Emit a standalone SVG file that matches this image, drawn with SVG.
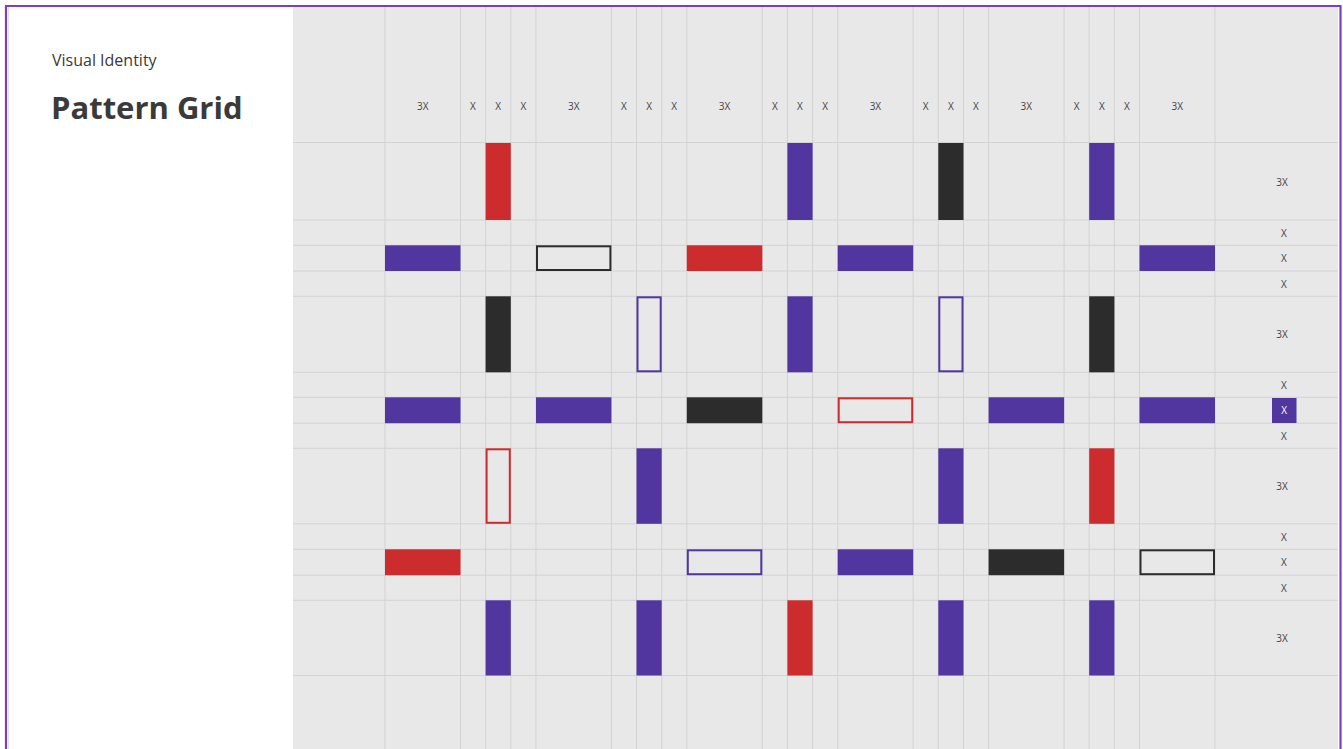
<svg xmlns="http://www.w3.org/2000/svg" width="1343" height="749" viewBox="0 0 1343 749">
<style>
.t{font-family:"Open Sans","Liberation Sans",sans-serif;fill:#3a3a3a}
.lbl{font-family:"Open Sans","Liberation Sans",sans-serif;font-size:10px;fill:#444;text-anchor:middle;dominant-baseline:central}
.gl{stroke:#d3d3d3;stroke-width:1;fill:none}
.pf{fill:#51369f}
.rf{fill:#cc2c2d}
.kf{fill:#2c2c2c}
.po{fill:none;stroke:#51369f;stroke-width:2}
.ro{fill:none;stroke:#cc2c2d;stroke-width:2}
.ko{fill:none;stroke:#2c2c2c;stroke-width:2}
</style>
<rect x="0" y="0" width="1343" height="749" fill="#ffffff"/>
<rect x="293" y="7" width="1045" height="742" fill="#e8e8e8"/>
<line x1="8.5" y1="7" x2="8.5" y2="749" stroke="#e2e2e2" stroke-width="1"/>

<g id="title">
<text class="t" x="52" y="66" font-size="16">Visual Identity</text>
<text class="t" x="51" y="119" font-size="31" font-weight="bold">Pattern Grid</text>
</g>

<g id="grid-lines">
<path class="gl" d="M385 7V749M460.5 7V749M485.6 7V749M510.8 7V749M536 7V749M611.4 7V749M636.5 7V749M661.7 7V749M686.8 7V749M762.3 7V749M787.4 7V749M812.6 7V749M837.7 7V749M913.2 7V749M938.3 7V749M963.5 7V749M988.6 7V749M1064.1 7V749M1089.2 7V749M1114.4 7V749M1139.5 7V749M1215 7V749"/>
<path class="gl" d="M293 142.5H1338M293 220H1338M293 245.3H1338M293 271H1338M293 296.3H1338M293 372.3H1338M293 397.3H1338M293 423.2H1338M293 448.3H1338M293 523.8H1338M293 549.3H1338M293 575.2H1338M293 600.3H1338M293 675.5H1338"/>
</g>

<g id="column-labels">
<text class="lbl" x="422.7" y="105.5">3X</text>
<text class="lbl" x="473" y="105.5">X</text>
<text class="lbl" x="498.2" y="105.5">X</text>
<text class="lbl" x="523.4" y="105.5">X</text>
<text class="lbl" x="573.7" y="105.5">3X</text>
<text class="lbl" x="624" y="105.5">X</text>
<text class="lbl" x="649.1" y="105.5">X</text>
<text class="lbl" x="674.2" y="105.5">X</text>
<text class="lbl" x="724.5" y="105.5">3X</text>
<text class="lbl" x="774.8" y="105.5">X</text>
<text class="lbl" x="800" y="105.5">X</text>
<text class="lbl" x="825.1" y="105.5">X</text>
<text class="lbl" x="875.4" y="105.5">3X</text>
<text class="lbl" x="925.7" y="105.5">X</text>
<text class="lbl" x="950.9" y="105.5">X</text>
<text class="lbl" x="976" y="105.5">X</text>
<text class="lbl" x="1026.3" y="105.5">3X</text>
<text class="lbl" x="1076.6" y="105.5">X</text>
<text class="lbl" x="1101.8" y="105.5">X</text>
<text class="lbl" x="1126.9" y="105.5">X</text>
<text class="lbl" x="1177.2" y="105.5">3X</text>
</g>

<g id="row-labels">
<text class="lbl" x="1282" y="181.5">3X</text>
<text class="lbl" x="1284" y="232.7">X</text>
<text class="lbl" x="1284" y="258.2">X</text>
<text class="lbl" x="1284" y="283.7">X</text>
<text class="lbl" x="1282" y="334.3">3X</text>
<text class="lbl" x="1284" y="384.8">X</text>
<rect id="highlight" x="1272" y="398" width="24.5" height="25" class="pf"/>
<text class="lbl" x="1284.2" y="410.3" style="fill:#ffffff">X</text>
<text class="lbl" x="1284" y="435.8">X</text>
<text class="lbl" x="1282" y="486">3X</text>
<text class="lbl" x="1284" y="536.6">X</text>
<text class="lbl" x="1284" y="562.2">X</text>
<text class="lbl" x="1284" y="587.8">X</text>
<text class="lbl" x="1282" y="637.9">3X</text>
</g>

<g id="row1">
<rect class="rf" x="485.6" y="143" width="25.2" height="77"/>
<rect class="pf" x="787.4" y="143" width="25.2" height="77"/>
<rect class="kf" x="938.3" y="143" width="25.2" height="77"/>
<rect class="pf" x="1089.2" y="143" width="25.2" height="77"/>
</g>

<g id="row2">
<rect class="pf" x="385" y="245.3" width="75.5" height="25.7"/>
<rect class="ko" x="537" y="246.3" width="73.4" height="23.7"/>
<rect class="rf" x="686.8" y="245.3" width="75.5" height="25.7"/>
<rect class="pf" x="837.7" y="245.3" width="75.5" height="25.7"/>
<rect class="pf" x="1139.5" y="245.3" width="75.5" height="25.7"/>
</g>

<g id="row3">
<rect class="kf" x="485.6" y="296.3" width="25.2" height="76"/>
<rect class="po" x="637.5" y="297.3" width="23.2" height="74"/>
<rect class="pf" x="787.4" y="296.3" width="25.2" height="76"/>
<rect class="po" x="939.3" y="297.3" width="23.2" height="74"/>
<rect class="kf" x="1089.2" y="296.3" width="25.2" height="76"/>
</g>

<g id="row4">
<rect class="pf" x="385" y="397.3" width="75.5" height="25.9"/>
<rect class="pf" x="536" y="397.3" width="75.4" height="25.9"/>
<rect class="kf" x="686.8" y="397.3" width="75.5" height="25.9"/>
<rect class="ro" x="838.7" y="398.3" width="73.5" height="23.9"/>
<rect class="pf" x="988.6" y="397.3" width="75.5" height="25.9"/>
<rect class="pf" x="1139.5" y="397.3" width="75.5" height="25.9"/>
</g>

<g id="row5">
<rect class="ro" x="486.6" y="449.3" width="23.2" height="73.5"/>
<rect class="pf" x="636.5" y="448.3" width="25.2" height="75.5"/>
<rect class="pf" x="938.3" y="448.3" width="25.2" height="75.5"/>
<rect class="rf" x="1089.2" y="448.3" width="25.2" height="75.5"/>
</g>

<g id="row6">
<rect class="rf" x="385" y="549.3" width="75.5" height="25.9"/>
<rect class="po" x="687.8" y="550.3" width="73.5" height="23.9"/>
<rect class="pf" x="837.7" y="549.3" width="75.5" height="25.9"/>
<rect class="kf" x="988.6" y="549.3" width="75.5" height="25.9"/>
<rect class="ko" x="1140.5" y="550.3" width="73.5" height="23.9"/>
</g>

<g id="row7">
<rect class="pf" x="485.6" y="600.3" width="25.2" height="75.2"/>
<rect class="pf" x="636.5" y="600.3" width="25.2" height="75.2"/>
<rect class="rf" x="787.4" y="600.3" width="25.2" height="75.2"/>
<rect class="pf" x="938.3" y="600.3" width="25.2" height="75.2"/>
<rect class="pf" x="1089.2" y="600.3" width="25.2" height="75.2"/>
</g>

<path id="frame" d="M6 749V6H1340.5V749" fill="none" stroke="#7b40c0" stroke-width="2.2"/>
</svg>
